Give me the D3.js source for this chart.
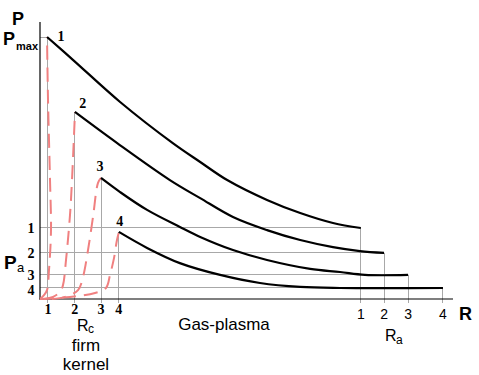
<!DOCTYPE html>
<html>
<head>
<meta charset="utf-8">
<script src="https://cdn.jsdelivr.net/npm/d3@7"></script>
<style>
  body { margin: 0; background: #fff; }
  svg { display: block; }
  .bold { font-family: Arial, "Liberation Sans", sans-serif; font-weight: bold; }
  .sans { font-family: Arial, "Liberation Sans", sans-serif; }
  .serif { font-family: "Times New Roman", "Liberation Serif", serif; font-weight: bold; }
</style>
</head>
<body>
<svg id="chart" width="479" height="375"></svg>
<script>
// curve ids / tick labels
var curveIds = ["1", "2", "3", "4"];

// R and P in arbitrary units (P max = 100)
var rCore = [1.7, 8.4, 14.7, 19.0];     // Rc for each curve
var pPeak = [100, 71.4, 46.2, 25.6];    // peak pressure
var rOuter = [77.3, 82.9, 88.7, 97.1];  // Ra for each curve
var pOuter = [27.1, 17.6, 9.2, 4.2];    // Pa for each curve

// gas-plasma decay (solid black)
var decay1 = [[1.7, 100], [8.0, 91.2], [19.3, 75.2], [32.0, 59.5], [38.6, 52.3], [45.1, 45.4], [54.7, 37.8], [62.7, 32.8], [70.6, 29.0], [77.3, 27.1]];
var decay2 = [[8.4, 71.4], [18.6, 59.5], [31.3, 45.4], [38.6, 38.5], [46.5, 31.3], [54.7, 26.3], [62.7, 22.5], [70.6, 19.8], [77.1, 18.3], [82.9, 17.6]];
var decay3 = [[14.7, 46.2], [19.3, 40.8], [25.8, 34.0], [33.7, 27.5], [38.6, 23.7], [46.5, 18.7], [54.7, 14.9], [65.1, 11.5], [72.3, 10.3], [78.3, 9.2], [88.7, 9.2]];
var decay4 = [[19.0, 25.6], [25.8, 19.5], [33.7, 13.7], [43.4, 9.2], [53.0, 6.1], [62.7, 4.6], [72.3, 4.2], [97.1, 4.2]];

// firm kernel rise (dashed red)
var rise1 = [[0, 0], [0.96, 1.5], [1.69, 3.4], [2.17, 11.1], [2.65, 26.3], [2.41, 45.4], [1.93, 76.0], [1.69, 100]];
var rise2 = [[0.96, 0], [3.13, 0.8], [4.82, 2.7], [5.54, 5.3], [6.27, 14.9], [7.23, 32.1], [7.71, 45.4], [8.43, 71.4]];
var rise3 = [[2.89, 0], [6.02, 0.8], [9.16, 3.4], [10.36, 8.4], [11.57, 18.7], [12.77, 31.3], [13.98, 44.3], [14.70, 46.2]];
var rise4 = [[0, 0], [7.23, 0.8], [13.25, 2.3], [15.90, 4.2], [16.87, 9.2], [17.83, 15.6], [18.55, 22.5], [19.04, 25.6]];

var decays = [decay1, decay2, decay3, decay4];
var rises = [rise1, rise2, rise3, rise4];

var svg = d3.select("#chart");
var x = d3.scaleLinear().domain([0, 100]).range([40, 455]);
var y = d3.scaleLinear().domain([0, 100]).range([299, 37]);

var grey = "#a8a8a8";

// grey guide lines
var guides = svg.append("g").attr("stroke", grey).attr("stroke-width", 1).attr("shape-rendering", "crispEdges");
curveIds.forEach(function(id, i) {
    // horizontal Pa
    guides.append("line").attr("x1", x(0)).attr("x2", x(rOuter[i])).attr("y1", y(pOuter[i])).attr("y2", y(pOuter[i]));
    // vertical Ra
    guides.append("line").attr("x1", x(rOuter[i])).attr("x2", x(rOuter[i])).attr("y1", y(pOuter[i])).attr("y2", y(0) + 4);
    // vertical Rc
    guides.append("line").attr("x1", x(rCore[i])).attr("x2", x(rCore[i])).attr("y1", y(pPeak[i])).attr("y2", y(0) + 4);
});
guides.append("line").attr("x1", x(0)).attr("x2", x(rCore[0])).attr("y1", y(pPeak[0])).attr("y2", y(pPeak[0]));

// axes
svg.append("line").attr("x1", x(0)).attr("x2", x(0)).attr("y1", 22).attr("y2", y(0))
    .attr("stroke", "#000").attr("stroke-width", 1.2);
svg.append("line").attr("x1", x(0) - 1).attr("x2", 453).attr("y1", y(0)).attr("y2", y(0))
    .attr("stroke", "#000").attr("stroke-width", 1.2);

// red dashed rise curves
var line = d3.line().x(function(d) { return x(d[0]); }).y(function(d) { return y(d[1]); }).curve(d3.curveCatmullRom);
svg.append("g").selectAll("path").data(rises).enter().append("path")
    .attr("d", line)
    .attr("fill", "none")
    .attr("stroke", "#f08080")
    .attr("stroke-width", 2)
    .attr("stroke-dasharray", "14,8");

// black decay curves
svg.append("g").selectAll("path").data(decays).enter().append("path")
    .attr("d", line)
    .attr("fill", "none")
    .attr("stroke", "#000")
    .attr("stroke-width", 2.2);

// curve numbers near peaks
var labelDx = [14, 8, -1, 1];
var labelDy = [4, -4, -7, -6];
svg.append("g").selectAll("text").data(curveIds).enter().append("text")
    .attr("class", "serif")
    .attr("font-size", 14)
    .attr("text-anchor", "middle")
    .attr("x", function(d, i) { return x(rCore[i]) + labelDx[i]; })
    .attr("y", function(d, i) { return y(pPeak[i]) + labelDy[i]; })
    .text(function(d) { return d; });

// Pa tick labels (left)
svg.append("g").selectAll("text").data(curveIds).enter().append("text")
    .attr("class", "serif")
    .attr("font-size", 14)
    .attr("text-anchor", "middle")
    .attr("x", 31)
    .attr("y", function(d, i) { return y(pOuter[i]) + 5 + (i == 3 ? 2 : 0); })
    .text(function(d) { return d; });

// Rc tick labels (bottom)
svg.append("g").selectAll("text").data(curveIds).enter().append("text")
    .attr("class", "serif")
    .attr("font-size", 14)
    .attr("text-anchor", "middle")
    .attr("x", function(d, i) { return x(rCore[i]) + (i == 0 ? 1 : 0); })
    .attr("y", 314)
    .text(function(d) { return d; });

// Ra tick labels (bottom right)
svg.append("g").selectAll("text").data(curveIds).enter().append("text")
    .attr("class", "sans")
    .attr("font-size", 14)
    .attr("text-anchor", "middle")
    .attr("x", function(d, i) { return x(rOuter[i]); })
    .attr("y", 319)
    .text(function(d) { return d; });

// axis titles
svg.append("text").attr("class", "bold").attr("font-size", 18).attr("x", 12).attr("y", 25).text("P");
svg.append("text").attr("class", "bold").attr("font-size", 18).attr("x", 3).attr("y", 45).text("P");
svg.append("text").attr("class", "bold").attr("font-size", 11).attr("x", 16).attr("y", 50).text("max");
svg.append("text").attr("class", "bold").attr("font-size", 19).attr("x", 4).attr("y", 269).text("P");
svg.append("text").attr("class", "sans").attr("font-size", 13).attr("x", 17).attr("y", 272).text("a");
svg.append("text").attr("class", "bold").attr("font-size", 18).attr("x", 459).attr("y", 320).text("R");

svg.append("text").attr("class", "sans").attr("font-size", 16).attr("x", 77).attr("y", 331).text("R");
svg.append("text").attr("class", "sans").attr("font-size", 12).attr("x", 88).attr("y", 333).text("c");
svg.append("text").attr("class", "sans").attr("font-size", 17).attr("text-anchor", "middle").attr("x", 86).attr("y", 351).text("firm");
svg.append("text").attr("class", "sans").attr("font-size", 17).attr("text-anchor", "middle").attr("x", 86).attr("y", 370).text("kernel");

svg.append("text").attr("class", "sans").attr("font-size", 17).attr("text-anchor", "middle").attr("x", 224).attr("y", 330).text("Gas-plasma");

svg.append("text").attr("class", "sans").attr("font-size", 16).attr("x", 385).attr("y", 341).text("R");
svg.append("text").attr("class", "sans").attr("font-size", 12).attr("x", 396).attr("y", 344).text("a");
</script>
</body>
</html>
